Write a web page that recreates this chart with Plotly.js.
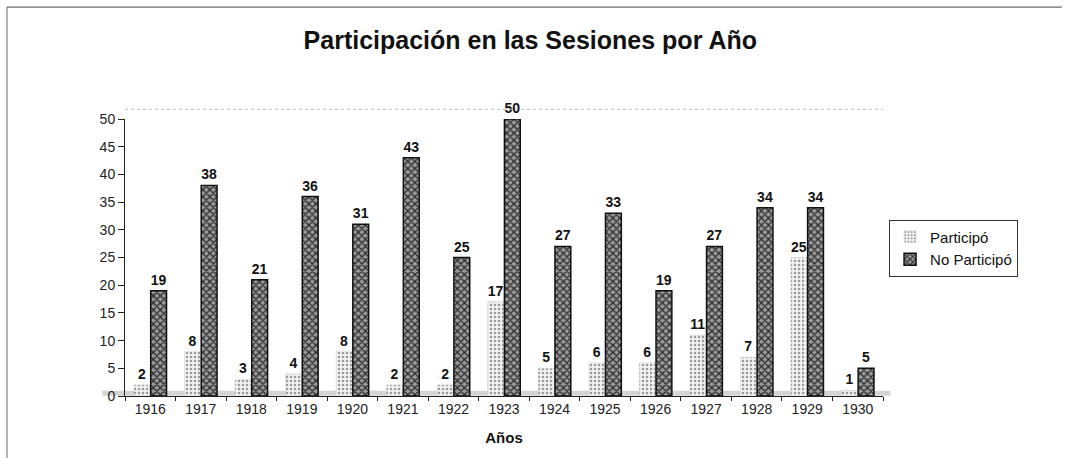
<!DOCTYPE html>
<html>
<head>
<meta charset="utf-8">
<script src="https://cdn.plot.ly/plotly-3.0.1.min.js"></script>
<style>html,body{margin:0;padding:0;background:#fff;}#chart{width:1067px;height:458px;}</style>
</head>
<body>
<div id="chart"></div>
<script>
const years = ['1916','1917','1918','1919','1920','1921','1922','1923','1924','1925','1926','1927','1928','1929','1930'];
const participo = [2, 8, 3, 4, 8, 2, 2, 17, 5, 6, 6, 11, 7, 25, 1];
const noParticipo = [19, 38, 21, 36, 31, 43, 25, 50, 27, 33, 19, 27, 34, 34, 5];
const seriesNames = ['Participó', 'No Participó'];

const FONT = 'Liberation Sans, Arial, sans-serif';

const traces = [
  {
    type: 'bar', name: seriesNames[0], x: years, y: participo,
    text: participo.map(String), textposition: 'outside', cliponaxis: false,
    textfont: {family: FONT, size: 14, color: '#111', weight: 'bold'},
    marker: {color: '#e6e6e6', line: {color: '#cfcfcf', width: 0.5},
      pattern: {shape: '.', fgcolor: '#9a9a9a', bgcolor: '#f2f2f2', size: 4, solidity: 0.3}}
  },
  {
    type: 'bar', name: seriesNames[1], x: years, y: noParticipo,
    text: noParticipo.map(String), textposition: 'outside', cliponaxis: false,
    textfont: {family: FONT, size: 14, color: '#111', weight: 'bold'},
    marker: {color: '#555', line: {color: '#111', width: 1.5},
      pattern: {shape: 'x', fgcolor: '#2a2a2a', bgcolor: '#9a9a9a', size: 5, solidity: 0.45}}
  }
];

const layout = {
  width: 1067, height: 458,
  margin: {l: 125, r: 184, t: 119, b: 62},
  paper_bgcolor: '#fff', plot_bgcolor: '#fff',
  barmode: 'group', bargap: 0.34, bargroupgap: 0.05,
  title: {text: '<b>Participación en las Sesiones por Año</b>', x: 0.497, xanchor: 'center', y: 0.912, yanchor: 'middle',
    font: {family: FONT, size: 25, color: '#111'}},
  xaxis: {
    type: 'category', showline: true, linecolor: '#222', linewidth: 1,
    ticks: 'outside', tickson: 'boundaries', ticklen: 4, tickcolor: '#222',
    tickfont: {family: FONT, size: 14, color: '#222'},
    title: {text: '<b>Años</b>', font: {family: FONT, size: 15, color: '#111'}, standoff: 16},
    showgrid: false, fixedrange: true
  },
  yaxis: {
    range: [0, 50], dtick: 5, showline: true, linecolor: '#222', linewidth: 1,
    ticks: 'outside', ticklen: 6, tickcolor: '#222',
    tickfont: {family: FONT, size: 14, color: '#222'},
    showgrid: false, zeroline: false, fixedrange: true
  },
  legend: {
    x: 1.008, xanchor: 'left', y: 0.534, yanchor: 'middle',
    bordercolor: '#333', borderwidth: 1, bgcolor: '#fff',
    font: {family: FONT, size: 15, color: '#111'},
    itemwidth: 30, tracegroupgap: 2
  },
  shapes: [
    {type: 'line', xref: 'paper', yref: 'paper', x0: 0, x1: 1, y0: 1.035, y1: 1.035,
      line: {color: '#bbb', width: 1, dash: 'dot'}},
    {type: 'line', xref: 'paper', yref: 'y', x0: -0.03, x1: 1.01, y0: 0.5, y1: 0.5,
      line: {color: '#d4d4d4', width: 5}, layer: 'below'},
    {type: 'line', xref: 'paper', yref: 'paper', x0: -0.1557, x1: 1.236, y0: 1.404, y1: 1.404, line: {color: '#444', width: 1}},
    {type: 'line', xref: 'paper', yref: 'paper', x0: -0.1557, x1: -0.1557, y0: 1.404, y1: -0.225, line: {color: '#666', width: 1}}
  ],
  showlegend: true
};

Plotly.newPlot('chart', traces, layout, {displayModeBar: false, staticPlot: true});
</script>
</body>
</html>
